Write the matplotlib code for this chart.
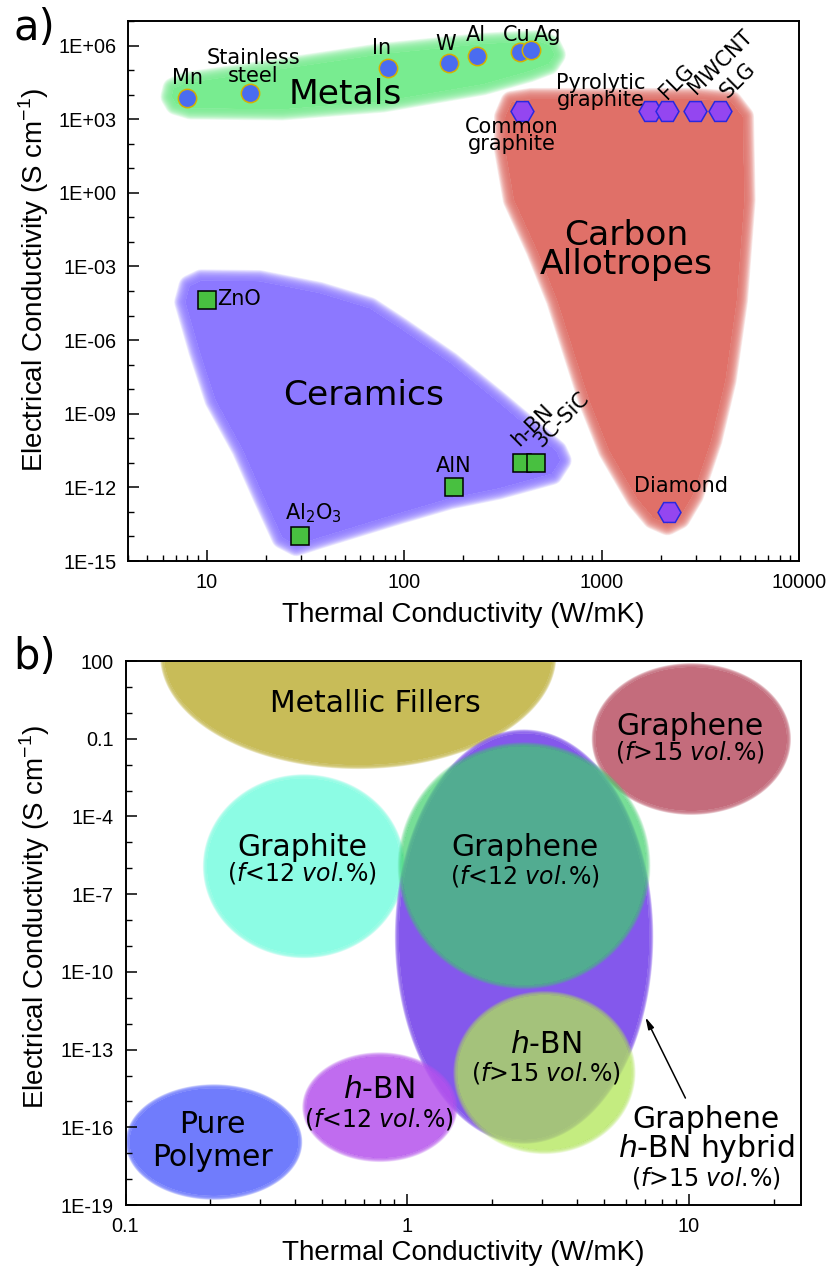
import numpy as np
import matplotlib
matplotlib.use('Agg')
import matplotlib.pyplot as plt
from matplotlib.path import Path
from matplotlib.ticker import FixedLocator, NullFormatter, LogLocator

plt.rcParams['font.family'] = ['DejaVu Sans']
TICKFONT = 'Liberation Sans'

# ---------------- panel a: materials ----------------
metal_names = ['Mn', 'Stainless\nsteel', 'In', 'W', 'Al', 'Cu', 'Ag']
metal_k = [8, 16.5, 83, 169, 233, 386, 440]
metal_s = [7.4e3, 1.2e4, 1.2e5, 1.9e5, 3.9e5, 5.4e5, 6.3e5]

carbon_names = ['Common\ngraphite', 'Pyrolytic\ngraphite', 'FLG', 'MWCNT', 'SLG', 'Diamond']
carbon_k = [395, 1750, 2150, 2960, 3980, 2200]
carbon_s = [2.1e3, 2.1e3, 2.1e3, 2.1e3, 2.1e3, 1e-13]

ceramic_names = ['ZnO', r'Al$_2$O$_3$', 'AlN', 'h-BN', '3C-SiC']
ceramic_k = [10, 29.6, 179, 394, 464]
ceramic_s = [4.5e-5, 1.05e-14, 1e-12, 1e-11, 1e-11]

# region outlines (thermal conductivity, log10 of electrical conductivity)
metals_out_k = [6.8, 7.9, 24.2, 78.0, 251, 480, 550, 580, 540, 430, 251, 78.0, 24.2, 8.3, 7.0, 6.65]
metals_out_e = [4.25, 4.48, 5.05, 5.66, 6.07, 6.18, 6.00, 5.63, 5.25, 4.95, 4.42, 3.72, 3.40, 3.44, 3.62, 3.92]

carbon_out_k = [325, 350, 440, 3100, 4550, 5200, 5300, 4850, 4250, 3600, 2900, 2480, 2155,
                1830, 1510, 1090, 865, 595, 470, 360, 325]
carbon_out_e = [3.10, 3.70, 3.82, 3.82, 3.70, 3.10, -0.29, -4.37, -7.63, -10.08, -12.33, -13.25, -13.50,
                -13.25, -12.45, -10.49, -8.45, -4.37, -2.33, -0.29, 1.76]

ceramic_out_k = [8.2, 9.4, 18.5, 37.3, 67, 95, 171, 300, 470, 590, 620, 560, 300, 171, 95,
                 37.3, 28.5, 24.2, 19.6, 15.2, 11.1, 9.2, 7.8]
ceramic_out_e = [-3.80, -3.57, -3.60, -4.08, -4.70, -5.50, -6.92, -8.52, -9.85, -10.52, -10.9, -11.45,
                 -12.05, -12.45, -13.05, -14.05, -14.35, -14.05, -12.45, -10.45, -8.45, -6.45, -4.45]

a_yticks_exp = [-15, -12, -9, -6, -3, 0, 3, 6]
a_ytick_labels = ['1E-15', '1E-12', '1E-09', '1E-06', '1E-03', '1E+00', '1E+03', '1E+06']
a_xticks = [10, 100, 1000, 10000]
a_xtick_labels = ['10', '100', '1000', '10000']

# ---------------- panel b: composites (ellipses in log space) ----------------
comp_names = ['Metallic Fillers', 'Graphene f>15', 'Graphite', 'Pure Polymer', 'Hybrid',
              'h-BN f<12', 'Graphene f<12', 'h-BN f>15']
comp_k = [0.67, 10.2, 0.43, 0.206, 2.6, 0.80, 2.6, 3.07]
comp_s = [1.7e2, 0.098, 1.2e-6, 2.7e-17, 2.3e-9, 6e-16, 1.26e-6, 1.3e-14]
comp_wk = [0.69, 0.34, 0.345, 0.30, 0.445, 0.262, 0.435, 0.31]   # semi-axis, decades
comp_ws = [4.25, 2.78, 3.40, 2.08, 7.85, 1.97, 4.62, 3.0]         # semi-axis, decades
comp_colors = ['#C8BC58', '#C46C7C', '#8CFCE4', '#707CFC', '#8458EC', '#B552ED', '#3DD06B', '#B0E656']
comp_alpha = [1, 1, 1, 1, 1, 0.85, 0.7, 0.75]

b_yticks_exp = [-19, -16, -13, -10, -7, -4, -1, 2]
b_ytick_labels = ['1E-19', '1E-16', '1E-13', '1E-10', '1E-7', '1E-4', '0.1', '100']
b_xticks = [0.1, 1, 10]
b_xtick_labels = ['0.1', '1', '10']


def soft_region(ax, xs, ys, color, alpha=1.0, soft=6.0, n=16, z=1):
    # filled region with a soft outer edge (stacked strokes clipped outside)
    xs = np.asarray(xs, float)
    ys = np.asarray(ys, float)
    lx, ly = np.log10(xs), np.log10(ys)
    area = 0.5 * np.sum(lx * np.roll(ly, -1) - np.roll(lx, -1) * ly)
    if area < 0:
        xs, ys = xs[::-1], ys[::-1]
    ax.fill(xs, ys, facecolor=color, edgecolor='none', alpha=alpha, zorder=z)
    rect = [(1e-6, 1e-40), (1e-6, 1e20), (1e9, 1e20), (1e9, 1e-40), (1e-6, 1e-40)]
    ring = np.column_stack([np.r_[xs, xs[0]], np.r_[ys, ys[0]]])
    outside = Path.make_compound_path(Path(rect, closed=True), Path(ring, closed=True))
    q = 1 - (1 - 0.92 * alpha) ** (1.0 / n)
    for i in range(n):
        p = ax.fill(xs, ys, facecolor='none', edgecolor=color, lw=2 * soft * (i + 1) / n,
                    alpha=q, zorder=z, joinstyle='round')[0]
        p.set_clip_path(outside, ax.transData)


def style_axes(ax, yexp, ylabels, xt, xlabels, ymin, ymax):
    ax.yaxis.set_major_locator(FixedLocator([10.0 ** e for e in yexp]))
    ax.yaxis.set_major_formatter(plt.FixedFormatter(ylabels))
    minor = [10.0 ** e for e in range(ymin, ymax + 1) if e not in yexp]
    ax.yaxis.set_minor_locator(FixedLocator(minor))
    ax.yaxis.set_minor_formatter(NullFormatter())
    ax.xaxis.set_major_locator(FixedLocator(xt))
    ax.xaxis.set_major_formatter(plt.FixedFormatter(xlabels))
    ax.xaxis.set_minor_locator(LogLocator(base=10, subs=np.arange(2, 10), numticks=20))
    ax.xaxis.set_minor_formatter(NullFormatter())
    ax.tick_params(which='both', direction='in', top=False, right=False)
    ax.tick_params(which='major', length=7.8, width=1.1, labelsize=14.3, pad=8.5,
                   labelfontfamily=TICKFONT)
    ax.tick_params(which='minor', length=4.3, width=1.0)
    for sp in ax.spines.values():
        sp.set_linewidth(1.4)
    ax.set_xlabel('Thermal Conductivity (W/mK)', fontsize=20, fontfamily=TICKFONT)
    ax.set_ylabel(r'Electrical Conductivity (S cm$^{\mathregular{-1}}$)', fontsize=20,
                  fontfamily=TICKFONT)
    ax.xaxis.label.set_va('center')
    ax.yaxis.label.set_va('center')


fig = plt.figure(figsize=(8.34, 12.73), dpi=100)
ax1 = fig.add_axes([0.1535, 0.5593, 0.8045, 0.4242])
ax2 = fig.add_axes([0.1505, 0.0534, 0.8099, 0.4273])

# ---- panel a ----
ax1.set_xscale('log')
ax1.set_yscale('log')
ax1.set_xlim(4, 1e4)
ax1.set_ylim(1e-15, 1e7)

soft_region(ax1, metals_out_k, 10.0 ** np.array(metals_out_e), '#78EC90', soft=8)
soft_region(ax1, carbon_out_k, 10.0 ** np.array(carbon_out_e), '#E07068', soft=8)
soft_region(ax1, ceramic_out_k, 10.0 ** np.array(ceramic_out_e), '#8C78FF', soft=8)

ax1.plot(metal_k, metal_s, 'o', ms=13.2, mfc='#4A6CF0', mec='#D4B000', mew=1.1, zorder=5)
ax1.plot(carbon_k, carbon_s, 'H', ms=16.5, mfc='#9446F0', mec='#2828E0', mew=1.1, zorder=5)
ax1.plot(ceramic_k, ceramic_s, 's', ms=12.5, mfc='#48C040', mec='black', mew=1.1, zorder=5)

small = dict(fontsize=15, ha='center', va='center', zorder=6, linespacing=0.85)
ax1.text(7.98, 10 ** 4.69, 'Mn', **small)
ax1.text(17.3, 10 ** 5.12, 'Stainless\nsteel', **small)
ax1.text(77, 10 ** 5.9, 'In', **small)
ax1.text(163, 10 ** 6.06, 'W', **small)
ax1.text(231, 10 ** 6.43, 'Al', **small)
ax1.text(372, 10 ** 6.45, 'Cu', **small)
ax1.text(536, 10 ** 6.41, 'Ag', **small)
ax1.text(996, 10 ** 4.12, 'Pyrolytic\ngraphite', **small)
ax1.text(352, 10 ** 2.33, 'Common\ngraphite', **small)
ax1.text(2420, 10 ** 4.53, 'FLG', rotation=45, **small)
ax1.text(4010, 10 ** 5.31, 'MWCNT', rotation=45, **small)
ax1.text(4890, 10 ** 4.57, 'SLG', rotation=45, **small)
ax1.text(2540, 10 ** -11.96, 'Diamond', **small)
ax1.text(11.3, 10 ** -4.33, 'ZnO', fontsize=15, ha='left', va='center', zorder=6)
ax1.text(34.6, 10 ** -13.06, r'Al$_2$O$_3$', **small)
ax1.text(179, 10 ** -11.14, 'AlN', **small)
ax1.text(445, 10 ** -9.47, 'h-BN', rotation=45, **small)
ax1.text(624, 10 ** -9.22, '3C-SiC', rotation=45, **small)

big = dict(fontsize=24.8, ha='center', va='center', zorder=6, linespacing=0.85)
ax1.text(50.6, 10 ** 4.0, 'Metals', **big)
ax1.text(1334, 10 ** -2.33, 'Carbon\nAllotropes', **big)
ax1.text(62.4, 10 ** -8.24, 'Ceramics', **big)

style_axes(ax1, a_yticks_exp, a_ytick_labels, a_xticks, a_xtick_labels, -15, 7)
ax1.xaxis.set_label_coords(0.5, -0.1)
ax1.yaxis.set_label_coords(-0.14, 0.52)

# ---- panel b ----
ax2.set_xscale('log')
ax2.set_yscale('log')
ax2.set_xlim(0.1, 25)
ax2.set_ylim(1e-19, 1e2)

t = np.linspace(0, 2 * np.pi, 240, endpoint=False)
for k, s, wk, ws, c, a in zip(comp_k, comp_s, comp_wk, comp_ws, comp_colors, comp_alpha):
    ex = 10 ** (np.log10(k) + wk * np.cos(t))
    ey = 10 ** (np.log10(s) + ws * np.sin(t))
    soft_region(ax2, ex, ey, c, alpha=a, soft=2.8, n=8)

VOL = r'$\mathit{vol.}\!\mathit{\%}$'
lab = dict(fontsize=21.5, ha='center', va='center', zorder=6)
sub = dict(fontsize=17, ha='center', va='center', zorder=6)
ax2.text(0.769, 10 ** 0.378, 'Metallic Fillers', **lab)
ax2.text(10.1, 10 ** -0.51, 'Graphene', **lab)
ax2.text(10.1, 10 ** -1.51, r'($\mathit{f}$>15 ' + VOL + ')', **sub)
ax2.text(0.424, 10 ** -5.20, 'Graphite', **lab)
ax2.text(0.424, 10 ** -6.17, r'($\mathit{f}$<12 ' + VOL + ')', **sub)
ax2.text(2.61, 10 ** -5.20, 'Graphene', **lab)
ax2.text(2.61, 10 ** -6.30, r'($\mathit{f}$<12 ' + VOL + ')', **sub)
ax2.text(3.1, 10 ** -12.79, r'$\mathit{h}$-BN', **lab)
ax2.text(3.1, 10 ** -13.89, r'($\mathit{f}$>15 ' + VOL + ')', **sub)
ax2.text(0.793, 10 ** -14.53, r'$\mathit{h}$-BN', **lab)
ax2.text(0.793, 10 ** -15.66, r'($\mathit{f}$<12 ' + VOL + ')', **sub)
ax2.text(0.203, 10 ** -15.88, 'Pure', **lab)
ax2.text(0.203, 10 ** -17.15, 'Polymer', **lab)
ax2.text(11.5, 10 ** -15.70, 'Graphene', **lab)
ax2.text(11.5, 10 ** -16.82, r'$\mathit{h}$-BN hybrid', **lab)
ax2.text(11.5, 10 ** -17.94, r'($\mathit{f}$>15 ' + VOL + ')', **sub)
ax2.annotate('', xy=(7.01, 10 ** -11.75), xytext=(9.72, 10 ** -14.87), zorder=7,
             arrowprops=dict(arrowstyle='-|>,head_length=0.7,head_width=0.18',
                             color='black', lw=1.1, shrinkA=0, shrinkB=0))

style_axes(ax2, b_yticks_exp, b_ytick_labels, b_xticks, b_xtick_labels, -19, 2)
ax2.xaxis.set_label_coords(0.5, -0.088)
ax2.yaxis.set_label_coords(-0.135, 0.53)

fig.text(0.016, 0.978, 'a)', fontsize=30, ha='left', va='center')
fig.text(0.016, 0.4839, 'b)', fontsize=30, ha='left', va='center')

fig.savefig('out.png', dpi=100)
